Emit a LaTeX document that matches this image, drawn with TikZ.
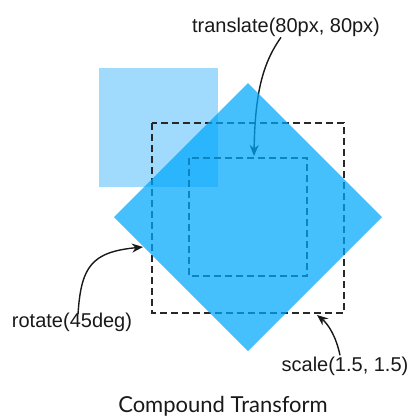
\documentclass[tikz,border=0pt]{standalone}
\usepackage{fontspec}
\setmainfont{Liberation Sans}
\newfontfamily\titlefont{Lato}
\usetikzlibrary{arrows.meta}
\definecolor{paleblue}{RGB}{160,219,254}
\definecolor{skyblue}{RGB}{0,168,252}
\definecolor{dashgray}{RGB}{40,40,40}
\tikzset{
  label/.style={font=\fontsize{20}{23}\selectfont, text=black!90, inner sep=1pt, anchor=base},
  dashbox/.style={draw=dashgray, line width=1.5pt, dash pattern=on 7pt off 4pt},
  pointer/.style={draw=black!90, line width=1.4pt, -{Stealth[length=11pt,width=9pt]}},
}
\begin{document}
\begin{tikzpicture}[x=1pt,y=-1pt]
  \useasboundingbox (0,0) rectangle (411,418);

  % labels
  \node[label] (tr) at (286,32) {translate(80px, 80px)};
  \node[label] (rot) at (72,327) {rotate(45deg)};
  \node[label] (sc) at (345,371) {scale(1.5, 1.5)};
  \node[font=\titlefont\fontsize{22}{25}\selectfont, text=black!90, anchor=base, inner sep=0pt] (title) at (223,412) {Compound Transform};

  % original square
  \fill[paleblue] (99,68) rectangle (218,187);

  % scaled and translated outlines
  \draw[dashbox] (152,123) rectangle (344,313);
  \draw[dashbox] (189,158) rectangle (307,276);

  % arrow targets
  \coordinate (trtip) at (254,156);
  \coordinate (rottip) at (143,247);
  \coordinate (sctip) at (317,315);

  \draw[pointer] ([xshift=-5pt]tr.south) .. controls (262,64) and (255,95) .. (trtip);
  \draw[pointer] ([xshift=6pt,yshift=-3pt]rot.north) .. controls (81,266) and (92,252) .. (rottip);
  \draw[pointer] ([xshift=-5pt]sc.north) .. controls (336,336) and (328,324) .. (sctip);

  % rotated square
  \fill[skyblue, fill opacity=0.73] (248,83) -- (382,217) -- (248,351) -- (114,217) -- cycle;
\end{tikzpicture}
\end{document}
